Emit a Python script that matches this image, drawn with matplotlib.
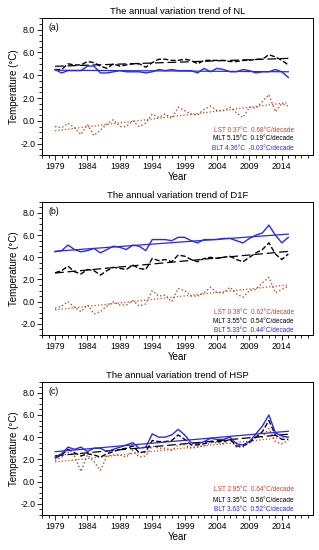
import numpy as np
import matplotlib
matplotlib.use("Agg")
import matplotlib.pyplot as plt
from matplotlib.ticker import MultipleLocator

plt.rcParams["font.family"] = ["Liberation Sans", "DejaVu Sans"]

# ---------------------------
# DATA
# ---------------------------
years = np.arange(1979, 2016)

nl_lst = [-0.5, -0.6, -0.2, -0.6, -1.2, -0.3, -1.3, -0.8, -0.3, 0.1, -0.5, -0.5, 0.0,
          -0.5, -0.2, 0.6, 0.3, 0.6, 0.2, 1.2, 0.9, 0.6, 0.5, 1.0, 1.3, 0.9, 0.9, 1.2,
          0.7, 0.3, 1.2, 1.1, 1.7, 2.3, 0.8, 1.5, 1.3]
nl_mlt = [4.5, 4.5, 5.0, 4.9, 4.9, 5.2, 5.1, 4.8, 4.6, 5.0, 4.8, 4.9, 5.0, 5.0, 4.7,
          5.1, 5.4, 5.4, 5.3, 5.3, 5.4, 5.3, 5.0, 5.3, 5.3, 5.3, 5.3, 5.2, 5.2, 5.3,
          5.3, 5.4, 5.4, 5.8, 5.6, 5.3, 4.9]
nl_blt = [4.5, 4.2, 4.4, 4.4, 4.4, 4.8, 4.8, 4.2, 4.2, 4.3, 4.4, 4.3, 4.3, 4.3, 4.2,
          4.3, 4.5, 4.4, 4.5, 4.4, 4.4, 4.4, 4.2, 4.6, 4.3, 4.6, 4.5, 4.3, 4.3, 4.5,
          4.4, 4.2, 4.3, 4.3, 4.5, 4.3, 3.8]

d1f_lst = [-0.6, -0.4, 0.0, -0.5, -0.9, -0.3, -1.1, -0.9, -0.4, 0.0, -0.3, -0.3, 0.1,
           -0.4, -0.2, 1.0, 0.5, 0.6, 0.0, 1.2, 1.0, 0.5, 0.5, 0.8, 1.3, 0.8, 0.8, 1.3,
           0.7, 0.4, 1.0, 1.1, 1.7, 2.2, 0.8, 1.1, 1.4]
d1f_mlt = [2.6, 2.8, 3.2, 2.7, 2.5, 2.9, 2.8, 2.4, 2.8, 3.1, 3.0, 2.9, 3.3, 3.0, 2.9,
           3.9, 3.7, 3.8, 3.6, 4.2, 4.1, 3.8, 3.6, 3.9, 4.0, 3.9, 4.0, 4.1, 3.8, 3.6,
           4.0, 4.4, 4.7, 5.3, 4.3, 3.8, 4.3]
d1f_blt = [4.5, 4.6, 5.1, 4.7, 4.5, 4.6, 4.8, 4.4, 4.7, 5.0, 4.9, 4.7, 5.1, 5.0, 4.6,
           5.6, 5.6, 5.6, 5.5, 5.8, 5.8, 5.5, 5.3, 5.6, 5.6, 5.6, 5.7, 5.7, 5.5, 5.3,
           5.7, 6.0, 6.2, 6.9, 6.0, 5.3, 5.8]

hsp_lst = [1.9, 2.2, 2.6, 2.3, 0.9, 2.4, 1.8, 1.0, 2.3, 2.4, 2.4, 2.2, 2.8, 2.2, 2.3,
           3.2, 3.0, 3.0, 2.8, 3.3, 3.3, 3.0, 3.1, 3.2, 3.5, 3.5, 3.4, 3.8, 3.1, 3.1,
           3.6, 4.0, 4.0, 4.8, 3.6, 3.4, 3.7]
hsp_mlt = [2.1, 2.4, 2.9, 2.6, 2.3, 2.5, 2.4, 2.2, 2.5, 2.7, 2.9, 3.0, 3.2, 2.6, 2.7,
           3.7, 3.6, 3.6, 3.7, 4.2, 3.8, 3.3, 3.3, 3.4, 3.6, 3.6, 3.6, 3.8, 3.2, 3.2,
           3.5, 4.0, 4.5, 5.5, 4.2, 3.8, 3.8]
hsp_blt = [2.2, 2.5, 3.1, 2.9, 3.1, 2.7, 3.0, 3.0, 2.7, 2.9, 3.1, 3.3, 3.5, 3.0, 3.1,
           4.3, 4.0, 4.0, 4.2, 4.7, 4.2, 3.5, 3.4, 3.6, 3.9, 3.8, 3.8, 4.0, 3.4, 3.3,
           3.6, 4.3, 5.0, 6.0, 4.4, 4.1, 4.0]

panels = [
    ("NL", "(a)", nl_lst, nl_mlt, nl_blt,
     ["LST 0.37°C  0.68°C/decade", "MLT 5.15°C  0.19°C/decade", "BLT 4.36°C  -0.03°C/decade"]),
    ("D1F", "(b)", d1f_lst, d1f_mlt, d1f_blt,
     ["LST 0.38°C  0.62°C/decade", "MLT 3.55°C  0.54°C/decade", "BLT 5.33°C  0.44°C/decade"]),
    ("HSP", "(c)", hsp_lst, hsp_mlt, hsp_blt,
     ["LST 2.95°C  0.64°C/decade", "MLT 3.35°C  0.56°C/decade", "BLT 3.63°C  0.52°C/decade"]),
]

lst_color = "#b0502a"
mlt_color = "black"
blt_color = "#2a2ae0"
text_colors = ["#c8402e", "black", "#2a2ae0"]
styles = [(lst_color, ":"), (mlt_color, "--"), (blt_color, "-")]

# axes boxes: (bottom, top) in figure fraction
boxes = [(0.718, 0.967), (0.391, 0.633), (0.064, 0.306)]
text_y = [(0.18, 0.12, 0.045), (0.17, 0.10, 0.035), (0.19, 0.105, 0.04)]

fig = plt.figure(figsize=(3.19, 5.5), dpi=100)

for (name, tag, lst, mlt, blt, labels), (b, t), ty in zip(panels, boxes, text_y):
    ax = fig.add_axes([0.132, b, 0.849, t - b])
    for series, (c, ls) in zip([lst, mlt, blt], styles):
        ax.plot(years, series, color=c, linestyle=ls, linewidth=1.0)
        k, c0 = np.polyfit(years, series, 1)
        trend, = ax.plot(years, k * years + c0, color=c, linestyle=ls, linewidth=0.9)
        if ls == "--":
            trend.set_dashes((7, 3))

    ax.set_xlim(1977, 2018.8)
    ax.set_ylim(-3, 9)
    ax.set_xticks(np.arange(1979, 2015, 5))
    ax.xaxis.set_minor_locator(MultipleLocator(1))
    ax.set_yticks(np.arange(-2, 9, 2))
    ax.set_yticklabels([f"{v:.1f}" for v in np.arange(-2, 9, 2)])
    ax.yaxis.set_minor_locator(MultipleLocator(0.5))
    ax.tick_params(which="both", direction="out", top=False, right=False,
                   labelsize=6.3, pad=1.5, width=0.6)
    ax.tick_params(which="major", length=3.5)
    ax.tick_params(which="minor", length=2)
    for sp in ax.spines.values():
        sp.set_linewidth(0.7)

    ax.set_title(f"The annual variation trend of {name}", fontsize=6.8, pad=3)
    ax.set_xlabel("Year", fontsize=7, labelpad=1)
    ax.set_ylabel("Temperature (°C)", fontsize=7, labelpad=1)
    ax.text(0.025, 0.93, tag, transform=ax.transAxes, fontsize=6.3, va="center")

    for lab, col, yy in zip(labels, text_colors, ty):
        ax.text(0.93, yy, lab, transform=ax.transAxes, fontsize=4.7,
                color=col, ha="right", va="center")

fig.savefig("out.png", dpi=100)
